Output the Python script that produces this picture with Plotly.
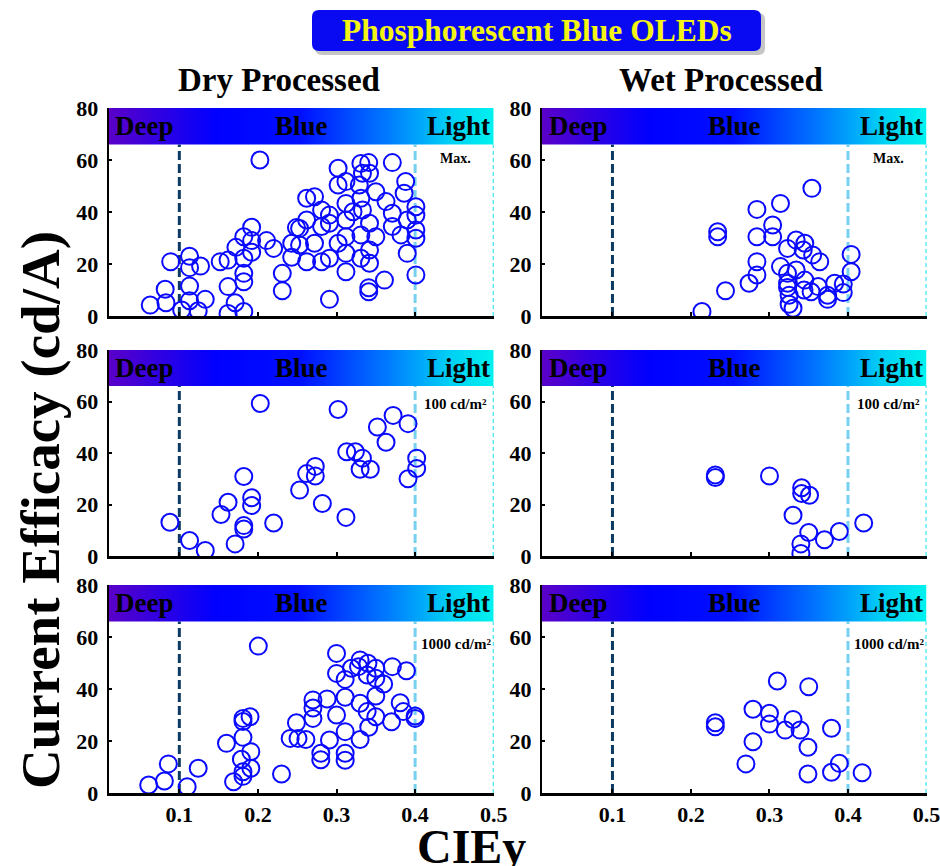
import plotly.graph_objects as go

# CIEy coordinates and current efficacy (cd/A) of phosphorescent blue OLEDs
dry_max_x = [0.063, 0.082, 0.083, 0.089, 0.103, 0.113, 0.113, 0.127, 0.113, 0.113, 0.133, 0.124,
             0.152, 0.162, 0.172, 0.182, 0.192, 0.192, 0.192, 0.182, 0.182, 0.182, 0.162, 0.171,
             0.162, 0.182, 0.2025, 0.211, 0.220, 0.231, 0.231, 0.243, 0.243, 0.249,
             0.371, 0.341, 0.331, 0.342, 0.333, 0.302, 0.302, 0.312, 0.329, 0.350, 0.388, 0.386,
             0.331, 0.363, 0.312, 0.262, 0.272, 0.281, 0.291, 0.321, 0.333, 0.371, 0.401, 0.401,
             0.262, 0.291, 0.312, 0.342, 0.390, 0.253, 0.281, 0.371, 0.401, 0.312, 0.331, 0.350,
             0.382, 0.401, 0.253, 0.272, 0.302, 0.312, 0.342, 0.262, 0.281, 0.291, 0.331, 0.342,
             0.390, 0.312, 0.401, 0.361, 0.341, 0.341, 0.291]
dry_max_y = [4.2, 10.3, 5.1, 20.9, 2.3, 23.0, 18.6, 19.2, 11.5, 5.9, 6.4, 2.0,
             20.9, 21.5, 26.4, 30.5, 34.1, 29.0, 24.5, 22.2, 16.4, 13.2, 11.3, 5.1,
             1.0, 1.7, 60.0, 29.0, 26.0, 16.4, 9.7, 22.6, 28.0, 34.0,
             59.0, 59.0, 58.7, 54.9, 54.9, 56.8, 50.4, 51.7, 50.4, 47.8, 51.7, 47.2,
             45.3, 44.0, 43.3, 45.3, 45.9, 40.8, 38.8, 40.1, 40.8, 39.5, 42.0, 38.8,
             36.9, 35.7, 36.9, 35.7, 36.9, 33.7, 34.4, 34.4, 33.1, 30.5, 31.2, 30.5,
             31.2, 29.9, 27.3, 28.0, 28.0, 24.1, 25.4, 20.9, 20.9, 22.2, 22.2, 20.3,
             24.1, 17.0, 15.8, 13.8, 9.3, 10.9, 6.4]

wet_max_x = [0.214, 0.234, 0.234, 0.244, 0.274, 0.284, 0.284, 0.284, 0.284, 0.304, 0.304, 0.314,
             0.314, 0.354, 0.334, 0.345, 0.343, 0.323, 0.355, 0.364, 0.323, 0.334, 0.323, 0.323,
             0.345, 0.344, 0.353, 0.362, 0.374, 0.374, 0.383, 0.394, 0.394, 0.404, 0.404, 0.325,
             0.325, 0.330]
wet_max_y = [1.7, 32.4, 30.5, 9.7, 12.6, 15.8, 20.9, 30.5, 41.0, 35.0, 30.5, 43.3,
             19.0, 49.1, 29.2, 28.0, 25.4, 26.0, 23.5, 20.9, 16.4, 17.7, 12.6, 11.0,
             13.8, 10.0, 9.3, 11.3, 8.0, 6.4, 12.6, 12.3, 9.0, 23.7, 17.0, 8.0,
             4.5, 3.0]

dry_100_x = [0.088, 0.113, 0.133, 0.153, 0.162, 0.171, 0.182, 0.182, 0.182, 0.192, 0.192, 0.203,
             0.220, 0.253, 0.262, 0.273, 0.273, 0.282, 0.302, 0.312, 0.313, 0.324, 0.333, 0.330,
             0.343, 0.352, 0.363, 0.372, 0.391, 0.391, 0.402, 0.402]
dry_100_y = [13.1, 6.0, 2.1, 16.1, 20.9, 4.7, 30.9, 11.8, 10.5, 22.6, 19.6, 59.2,
             12.8, 25.6, 32.0, 34.8, 31.1, 20.4, 56.9, 15.0, 40.5, 40.5, 38.0, 33.7,
             33.7, 50.1, 44.2, 54.6, 51.4, 30.0, 38.0, 34.0]

wet_100_x = [0.231, 0.231, 0.300, 0.330, 0.340, 0.340, 0.341, 0.341, 0.351, 0.350, 0.370, 0.389, 0.420]
wet_100_y = [31.5, 30.5, 31.1, 15.8, 4.7, 1.0, 26.5, 24.3, 23.6, 9.1, 6.3, 9.5, 12.8]

dry_1000_x = [0.061, 0.081, 0.086, 0.110, 0.124, 0.160, 0.169, 0.179, 0.181, 0.181, 0.181, 0.181,
              0.181, 0.190, 0.191, 0.191, 0.2005, 0.230, 0.241, 0.249, 0.251, 0.261, 0.270, 0.270,
              0.270, 0.280, 0.280, 0.288, 0.291, 0.300, 0.300, 0.300, 0.311, 0.311, 0.311, 0.311,
              0.311, 0.319, 0.328, 0.330, 0.330, 0.330, 0.339, 0.339, 0.340, 0.341, 0.350, 0.350,
              0.350, 0.350, 0.360, 0.370, 0.371, 0.381, 0.385, 0.389, 0.400, 0.400]
dry_1000_y = [3.1, 4.6, 11.2, 2.4, 9.5, 19.1, 4.3, 13.0, 28.7, 27.5, 21.4, 8.2,
              6.4, 29.3, 15.9, 9.5, 56.5, 7.3, 21.0, 27.0, 21.0, 20.6, 35.8, 32.7,
              28.7, 15.3, 12.8, 36.2, 20.4, 53.7, 46.0, 30.0, 43.7, 36.8, 23.6, 15.3,
              12.6, 48.0, 48.6, 51.2, 34.5, 20.6, 45.4, 31.3, 49.9, 25.3, 48.0, 44.1,
              37.3, 29.3, 41.9, 27.4, 48.6, 34.7, 31.3, 47.0, 29.6, 28.7]

wet_1000_x = [0.231, 0.231, 0.270, 0.279, 0.279, 0.300, 0.300, 0.310, 0.320, 0.330, 0.339, 0.349,
              0.349, 0.350, 0.379, 0.379, 0.389, 0.418]
wet_1000_y = [27.0, 25.5, 11.2, 32.2, 19.7, 30.7, 26.5, 43.1, 24.2, 28.3, 24.2, 17.6,
              7.3, 40.9, 24.9, 8.0, 11.4, 7.8]

panel_labels = ["Max.", "100 cd/m²", "1000 cd/m²"]
column_titles = ["Dry Processed", "Wet Processed"]
band_labels = ["Deep", "Blue", "Light"]
x_ticks = [0.1, 0.2, 0.3, 0.4, 0.5]
y_ticks = [0, 20, 40, 60, 80]
x_range = [0.01, 0.5]
y_range = [0, 80]
band_bottom = 66
region_bounds = [0.1, 0.4, 0.5]

panels = [
    (dry_max_x, dry_max_y), (wet_max_x, wet_max_y),
    (dry_100_x, dry_100_y), (wet_100_x, wet_100_y),
    (dry_1000_x, dry_1000_y), (wet_1000_x, wet_1000_y),
]

W, H = 940, 866
SERIF = "Liberation Serif"

# panel boxes in pixels: (left, right) per column, (top, bottom) per row
col_px = [(108.6, 493.7), (541.8, 926.5)]
row_px = [(108, 316), (350, 556), (585, 793)]

fig = go.Figure()
layout = dict(
    width=W, height=H, margin=dict(l=0, r=0, t=0, b=0, autoexpand=False),
    paper_bgcolor="white", plot_bgcolor="white", showlegend=False,
)

band_scale = [
    [0.0, "#5a00c8"], [0.28, "#0000ff"], [0.5, "#0010ff"],
    [0.72, "#0078ff"], [0.88, "#00cdf5"], [1.0, "#00f2ee"],
]
line_styles = [
    dict(color="#0d3a62", width=3, dash="9px,4px"),
    dict(color="#76d0ef", width=3, dash="9px,4px"),
    dict(color="#10e0f0", width=2, dash="4px,3px"),
]

shapes = []
annotations = []
for i, (px, py) in enumerate(panels):
    r, c = divmod(i, 2)
    k = i + 1
    xa = "x" if k == 1 else f"x{k}"
    ya = "y" if k == 1 else f"y{k}"
    xkey = "xaxis" if k == 1 else f"xaxis{k}"
    ykey = "yaxis" if k == 1 else f"yaxis{k}"
    l, rr = col_px[c]
    t, b = row_px[r]
    layout[xkey] = dict(
        domain=[l / W, rr / W], range=x_range, anchor=ya, automargin=False,
        showgrid=False, zeroline=False, showline=True, linecolor="black", linewidth=2.5,
        ticks="inside", ticklen=4, tickwidth=1.5, tickcolor="black",
        tickvals=x_ticks, ticktext=[f"{v:.1f}" for v in x_ticks],
        showticklabels=(r == 2), ticklabeloverflow="allow",
        tickfont=dict(family=SERIF, size=22, color="black", weight="bold"),
    )
    layout[ykey] = dict(
        domain=[(H - b) / H, (H - t) / H], range=y_range, anchor=xa, automargin=False,
        showgrid=False, zeroline=False, showline=True, linecolor="black", linewidth=2,
        ticks="inside", ticklen=3, tickwidth=1.5, tickcolor="black",
        tickvals=y_ticks, ticklabelstandoff=4,
        tickfont=dict(family=SERIF, size=22, color="black", weight="bold"),
    )

    # colour band across the top of each panel
    fig.add_trace(go.Scatter(
        x=[x_range[0], x_range[1], x_range[1], x_range[0], x_range[0]],
        y=[band_bottom, band_bottom, y_range[1], y_range[1], band_bottom],
        mode="lines", line=dict(width=0), fill="toself",
        fillgradient=dict(type="horizontal", colorscale=band_scale),
        hoverinfo="skip", xaxis=xa, yaxis=ya,
    ))

    for xv, st in zip(region_bounds, line_styles):
        shapes.append(dict(type="line", xref=xa, yref=ya, x0=xv, x1=xv,
                           y0=0, y1=band_bottom, line=st, layer="below"))

    band_font = dict(family=SERIF, size=27, color="black", weight="bold")
    annotations += [
        dict(text=band_labels[0], x=x_range[0] + 0.006, y=73.2, xref=xa, yref=ya,
             xanchor="left", yanchor="middle", showarrow=False, font=band_font),
        dict(text=band_labels[1], x=0.255, y=73.2, xref=xa, yref=ya,
             xanchor="center", yanchor="middle", showarrow=False, font=band_font),
        dict(text=band_labels[2], x=0.498, y=73.2, xref=xa, yref=ya,
             xanchor="right", yanchor="middle", showarrow=False, font=band_font),
        dict(text=panel_labels[r], x=0.452, y=60.5 - 1.5 * r, xref=xa, yref=ya,
             xanchor="center", yanchor="middle", showarrow=False,
             font=dict(family=SERIF, size=14 if r == 0 else 15, color="black", weight="bold")),
    ]

    fig.add_trace(go.Scatter(
        x=px, y=py, mode="markers", xaxis=xa, yaxis=ya,
        marker=dict(symbol="circle-open", size=17, color="#0a0aff",
                    line=dict(width=2, color="#0a0aff")),
        hoverinfo="x+y",
    ))

# headline box with shadow
def rounded_rect(x0, y0, x1, y1, rad):
    fx0, fx1 = x0 / W, x1 / W
    fy0, fy1 = (H - y1) / H, (H - y0) / H
    rx, ry = rad / W, rad / H
    return (f"M {fx0 + rx},{fy0} L {fx1 - rx},{fy0} Q {fx1},{fy0} {fx1},{fy0 + ry} "
            f"L {fx1},{fy1 - ry} Q {fx1},{fy1} {fx1 - rx},{fy1} "
            f"L {fx0 + rx},{fy1} Q {fx0},{fy1} {fx0},{fy1 - ry} "
            f"L {fx0},{fy0 + ry} Q {fx0},{fy0} {fx0 + rx},{fy0} Z")

shapes.append(dict(type="path", xref="paper", yref="paper",
                   path=rounded_rect(315, 13, 765, 55, 7),
                   fillcolor="rgba(90,90,90,0.35)", line=dict(width=0), layer="above"))
shapes.append(dict(type="path", xref="paper", yref="paper",
                   path=rounded_rect(312, 10, 761, 51, 7),
                   fillcolor="#0a0af2", line=dict(width=0), layer="above"))

annotations.append(dict(text="Phosphorescent Blue OLEDs", x=536.5 / W, y=1 - 31 / H,
                        xref="paper", yref="paper", xanchor="center", yanchor="middle",
                        showarrow=False,
                        font=dict(family=SERIF, size=31.5, color="#f4f414", weight="bold")))
for c, title in enumerate(column_titles):
    cx = [279, 721][c]
    annotations.append(dict(text=title, x=cx / W, y=1 - 80 / H, xref="paper", yref="paper",
                            xanchor="center", yanchor="middle", showarrow=False,
                            font=dict(family=SERIF, size=33, color="black", weight="bold")))

annotations.append(dict(text="Current Efficacy (cd/A)", x=40 / W, y=1 - 510 / H,
                        xref="paper", yref="paper", xanchor="center", yanchor="middle",
                        textangle=-90, showarrow=False,
                        font=dict(family=SERIF, size=55, color="black", weight="bold")))
annotations.append(dict(text="CIEy", x=472 / W, y=1 - 846 / H,
                        xref="paper", yref="paper", xanchor="center", yanchor="middle",
                        showarrow=False,
                        font=dict(family=SERIF, size=48, color="black", weight="bold")))

layout["shapes"] = shapes
layout["annotations"] = annotations
fig.update_layout(**layout)
fig.write_html("out.html")
